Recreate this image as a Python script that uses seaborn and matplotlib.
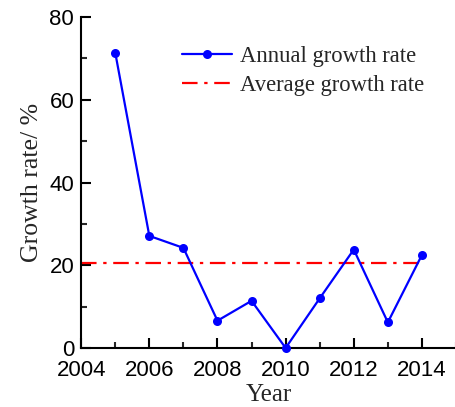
import matplotlib
matplotlib.use("Agg")
import matplotlib.pyplot as plt
import seaborn as sns
import pandas as pd
from matplotlib.ticker import MultipleLocator

sns.set_theme(style="ticks")
plt.rcParams["font.family"] = ["Liberation Serif", "DejaVu Serif"]

years = [2005, 2006, 2007, 2008, 2009, 2010, 2011, 2012, 2013, 2014]
growth = [71.4, 27.1, 24.2, 6.6, 11.4, 0.0, 12.0, 23.8, 6.2, 22.5]
avg_years = [2004, 2014]
avg_rate = [20.5, 20.5]

df = pd.DataFrame({"year": years, "growth": growth})
df_avg = pd.DataFrame({"year": avg_years, "growth": avg_rate})

fig = plt.figure(figsize=(4.56, 4.07), dpi=100)
ax = fig.add_axes([0.178, 0.145, 0.822, 0.813])

sns.lineplot(data=df, x="year", y="growth", ax=ax, color="#0000ff",
             linewidth=1.6, marker="o", markersize=6.5, markeredgewidth=0,
             label="Annual growth rate", clip_on=False, zorder=3)
sns.lineplot(data=df_avg, x="year", y="growth", ax=ax, color="#ff0000",
             linewidth=1.6, label="Average growth rate", zorder=2)
ax.lines[1].set_dashes([7, 3, 1.5, 3])

ax.set_xlim(2004, 2015)
ax.set_ylim(0, 80)
ax.xaxis.set_major_locator(MultipleLocator(2))
ax.xaxis.set_minor_locator(MultipleLocator(1))
ax.yaxis.set_major_locator(MultipleLocator(20))
ax.yaxis.set_minor_locator(MultipleLocator(10))

for s in ["top", "right"]:
    ax.spines[s].set_visible(False)
for s in ["left", "bottom"]:
    ax.spines[s].set_linewidth(1.5)
    ax.spines[s].set_color("black")

ax.tick_params(which="major", direction="in", length=7, width=1.5,
               labelsize=16, colors="black")
ax.tick_params(which="minor", direction="in", length=4.5, width=1.5)
ax.tick_params(axis="x", which="major", pad=9)
ax.tick_params(axis="y", which="major", pad=5)
for lab in ax.get_xticklabels() + ax.get_yticklabels():
    lab.set_family(["Liberation Sans", "DejaVu Sans"])

ax.set_xlabel("Year", fontsize=18, labelpad=1.5)
ax.set_ylabel("Growth rate/ %", fontsize=18.5, labelpad=5)

leg = ax.legend(loc="upper left", bbox_to_anchor=(0.245, 0.94), frameon=False,
                fontsize=16.3, handlelength=2.2, handletextpad=0.35,
                labelspacing=0.35, borderaxespad=0.0)

fig.savefig("out.png", dpi=100)
